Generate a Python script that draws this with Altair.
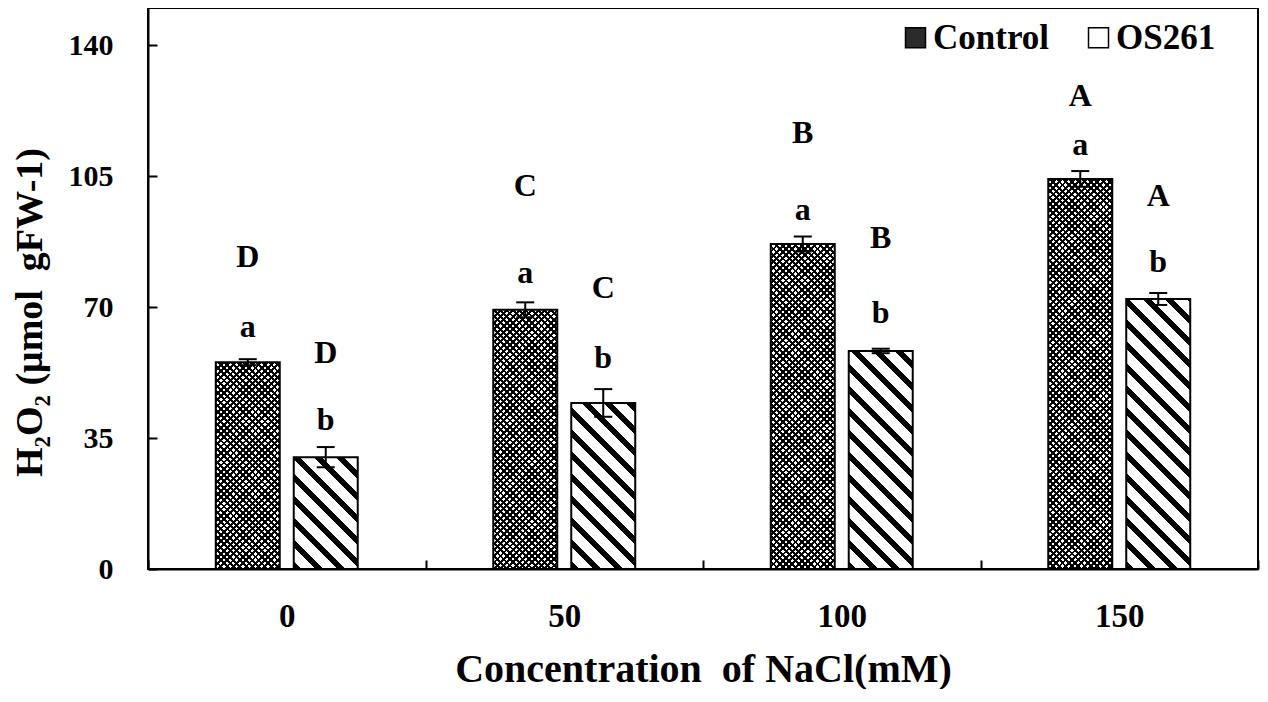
import altair as alt
import pandas as pd

# ---- data ----
concentrations = ["0", "50", "100", "150"]
series = ["Control", "OS261"]
control_values = [55.3, 69.3, 86.9, 104.3]
control_errors = [0.8, 2.0, 2.0, 2.1]
os261_values = [29.9, 44.4, 58.3, 72.2]
os261_errors = [2.7, 3.7, 0.6, 1.6]
control_lower = ["a", "a", "a", "a"]
control_upper = ["D", "C", "B", "A"]
os261_lower = ["b", "b", "b", "b"]
os261_upper = ["D", "C", "B", "A"]
# heights (data units) of the letter annotations
control_lower_y = [64.7, 79.1, 96.0, 113.4]
control_upper_y = [83.4, 102.4, 116.6, 126.5]
os261_lower_y = [39.8, 56.4, 68.4, 82.1]
os261_upper_y = [57.8, 75.1, 88.5, 99.7]
y_ticks = [0, 35, 70, 105, 140]

rows = []
idx = 0
for i, c in enumerate(concentrations):
    for s, vals, errs, lo_t, up_t, lo_y, up_y in [
        ("Control", control_values, control_errors, control_lower, control_upper, control_lower_y, control_upper_y),
        ("OS261", os261_values, os261_errors, os261_lower, os261_upper, os261_lower_y, os261_upper_y),
    ]:
        rows.append(dict(idx=idx, conc=c, series=s, value=vals[i], err=errs[i],
                         lo=vals[i] - errs[i], hi=vals[i] + errs[i],
                         lower=lo_t[i], lower_y=lo_y[i], upper=up_t[i], upper_y=up_y[i]))
        idx += 1
df = pd.DataFrame(rows)

# ---- layout / style ----
W, H = 1110, 561
YMAX = 150
FONT = "Liberation Serif"
BAR_W = 64.0
TICK = 9


def stripes(w, h, period, frac, direction, dark, light):
    L = w + h
    pt = period / L
    k = L / (w * w + h * h)
    stops = []
    i = 0
    while i * pt < 1:
        s = i * pt
        e = min(s + frac * pt, 1.0)
        e2 = min((i + 1) * pt, 1.0)
        stops += [{"offset": round(s, 5), "color": dark},
                  {"offset": round(e, 5), "color": dark}]
        if e < 1:
            stops += [{"offset": round(e, 5), "color": light},
                      {"offset": round(e2, 5), "color": light}]
        i += 1
    if direction == "back":
        g = {"x1": 0, "y1": 1, "x2": round(k * w, 6), "y2": round(1 - k * h, 6)}
    else:
        g = {"x1": 0, "y1": 0, "x2": round(k * w, 6), "y2": round(k * h, 6)}
    g.update({"gradient": "linear", "stops": stops})
    return g


X = alt.X("conc:N", sort=concentrations,
          scale=alt.Scale(paddingInner=0, paddingOuter=0),
          axis=alt.Axis(title="Concentration\u00a0\u00a0of NaCl(mM)", labelAngle=0,
                        tickBand="extent", ticks=False, tickSize=0,
                        grid=True, gridColor="black", gridWidth=2,
                        gridDash=[0, H - TICK, TICK, 3000],
                        labelPadding=31, labelFontSize=33,
                        titleFontSize=40, titleY=112, titleBaseline="alphabetic"))
XO = alt.XOffset("series:N", sort=series,
                 scale=alt.Scale(domain=series, paddingInner=0.1795, paddingOuter=0.869))
YAX = alt.Axis(title="H₂O₂ (μmol\u00a0\u00a0gFW-1)", values=y_ticks, ticks=False, tickSize=0,
               grid=True, gridColor="black", gridWidth=2, gridDash=[TICK, 3000],
               labelPadding=35, labelFontSize=30,
               titleFontSize=38, titleX=-118, titleY=304, titleAlign="center",
               titleBaseline="middle")
YS = alt.Scale(domain=[0, YMAX], nice=False, zero=True)


def Y(field):
    return alt.Y(field, type="quantitative", scale=YS, axis=YAX)


base = alt.Chart(df)
layers = []
for r in rows:
    h = r["value"] / YMAX * H
    sel = base.transform_filter(alt.datum.idx == r["idx"])
    if r["series"] == "Control":
        g1 = stripes(BAR_W, h, 6.3, 0.45, "fwd", "#000000", "#ffffff")
        g2 = stripes(BAR_W, h, 6.3, 0.45, "back", "#000000", "rgba(0,0,0,0)")
        layers.append(sel.mark_bar(fill=g1, strokeWidth=0).encode(x=X, xOffset=XO, y=Y("value")))
        layers.append(sel.mark_bar(fill=g2, stroke="black", strokeWidth=2).encode(x=X, xOffset=XO, y=Y("value")))
    else:
        g = stripes(BAR_W, h, 22, 0.36, "back", "#000000", "#ffffff")
        layers.append(sel.mark_bar(fill=g, stroke="black", strokeWidth=2).encode(x=X, xOffset=XO, y=Y("value")))

err_rule = base.mark_rule(color="black", strokeWidth=2).encode(
    x=X, xOffset=XO, y=Y("lo"), y2="hi:Q")
cap_hi = base.mark_tick(color="black", thickness=2, size=18, orient="horizontal", opacity=1).encode(
    x=X, xOffset=XO, y=Y("hi"))
cap_lo = base.mark_tick(color="black", thickness=2, size=18, orient="horizontal", opacity=1).encode(
    x=X, xOffset=XO, y=Y("lo"))

txt_lower = base.mark_text(font=FONT, fontSize=32, fontWeight="bold", baseline="middle",
                           color="black").encode(x=X, xOffset=XO, y=Y("lower_y"), text="lower:N")
txt_upper = base.mark_text(font=FONT, fontSize=32, fontWeight="bold", baseline="middle",
                           color="black").encode(x=X, xOffset=XO, y=Y("upper_y"), text="upper:N")

legend_layer = base.mark_square(opacity=0, size=10).encode(
    x=X, xOffset=XO, y=Y("value"),
    color=alt.Color("series:N", sort=series,
                    scale=alt.Scale(domain=series, range=["#2a2a2a", "#ffffff"]),
                    legend=alt.Legend(title=None, orient="none", legendX=750, legendY=12,
                                      direction="horizontal", symbolType="square",
                                      symbolSize=400, symbolStrokeColor="black",
                                      symbolStrokeWidth=1.5, symbolOpacity=1,
                                      labelFont=FONT, labelFontSize=35, labelFontWeight="bold",
                                      labelColor="black", labelOffset=0, columnPadding=31,
                                      padding=0)))

chart = alt.layer(*layers, err_rule, cap_hi, cap_lo, txt_lower, txt_upper, legend_layer).properties(
    width=W, height=H,
    autosize=alt.AutoSizeParams(type="none"),
    padding={"left": 140, "top": 0, "right": 2, "bottom": 120},
).configure(font=FONT).configure_view(
    stroke="black", strokeWidth=2
).configure_axis(
    domainColor="black", domainWidth=2, labelColor="black", titleColor="black",
    labelFont=FONT, titleFont=FONT, labelFontWeight="bold", titleFontWeight="bold"
).configure_legend(labelLimit=0)

chart.save("out.html", embed_options={"renderer": "svg", "actions": False})
